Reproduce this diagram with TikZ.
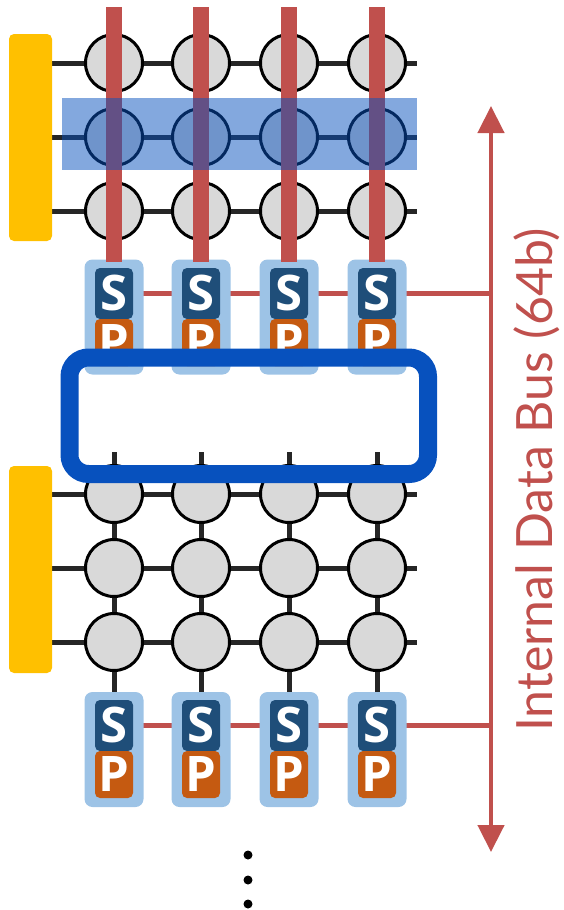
\documentclass[tikz,border=0pt]{standalone}
\usepackage{fontspec}
\usetikzlibrary{arrows.meta}
\newfontfamily\spfont{Open Sans}
\newfontfamily\busfont{Lato}
\definecolor{cred}{RGB}{192,80,77}
\definecolor{cyel}{RGB}{255,192,0}
\definecolor{cgray}{RGB}{217,217,217}
\definecolor{cline}{RGB}{38,38,38}
\definecolor{cblue}{RGB}{7,81,190}
\definecolor{clight}{RGB}{157,195,230}
\definecolor{cdark}{RGB}{31,78,121}
\definecolor{corange}{RGB}{197,90,17}
\pgfdeclarelayer{bg}
\pgfdeclarelayer{mid}
\pgfdeclarelayer{fg}
\pgfsetlayers{bg,main,mid,fg}
\begin{document}
\begin{tikzpicture}[x=1pt,y=-1pt,
  cell/.style={circle, draw=black, line width=3pt, fill=cgray, minimum size=57pt, inner sep=0pt},
  ybar/.style={rectangle, rounded corners=5pt, fill=cyel, minimum width=43pt, minimum height=207pt, inner sep=0pt},
  wire/.style={cline, line width=5pt},
  rbar/.style={cred, line width=16pt},
  rwire/.style={cred, line width=4.5pt},
  holder/.style={rectangle, rounded corners=8pt, fill=clight, minimum width=59pt, minimum height=115pt, inner sep=0pt},
  sbox/.style={rectangle, rounded corners=5pt, fill=cdark, minimum width=38pt, minimum height=51pt, inner sep=0pt, text=white, font=\spfont\bfseries\fontsize{49}{49}\selectfont, text height=34pt, text depth=0pt},
  pbox/.style={sbox, fill=corange, minimum height=47pt},
  dotmark/.style={circle, fill=black, minimum size=9pt, inner sep=0pt},
]
\useasboundingbox (0,0) rectangle (563,910);

% yellow bars
\node[ybar] (ytop) at (30.5,137.5) {};
\node[ybar] (ybot) at (30.5,569.5) {};

% cells
\foreach \r/\y in {1/63,2/137,3/211}{
  \foreach \c/\x in {1/114,2/201,3/289,4/377}{
    \node[cell] (t\r-\c) at (\x,\y) {};
  }
  \coordinate (te\r) at (417,\y);
}
\foreach \r/\y in {1/494,2/568,3/642}{
  \foreach \c/\x in {1/114,2/201,3/289,4/377}{
    \node[cell] (b\r-\c) at (\x,\y) {};
  }
  \coordinate (be\r) at (417,\y);
}

% S/P holders
\foreach \c/\x in {1/114,2/201,3/289,4/377}{
  \node[holder] (th\c) at (\x,317) {};
  \node[sbox] (ts\c) at (\x,293.5) {S};
  \node[pbox] (tp\c) at (\x,342.5) {P};
  \node[holder] (bh\c) at (\x,749.5) {};
  \node[sbox] (bs\c) at (\x,725.5) {S};
  \node[pbox] (bp\c) at (\x,774.5) {P};
  \coordinate (rt\c) at (\x,7);
  \coordinate (bt\c) at (\x,452);
}

\coordinate (bustop) at (491,106);
\coordinate (busbot) at (491,852);

\begin{pgfonlayer}{bg}
  \foreach \r in {1,2,3}{
    \draw[wire] (ytop.east |- te\r) -- (te\r);
    \draw[wire] (ybot.east |- be\r) -- (be\r);
  }
  \foreach \c in {1,2,3,4}{
    \draw[wire] (bt\c) -- (bs\c.center);
  }
  \draw[rwire] (ts1.center) -- (ts1.center -| bustop);
  \draw[rwire] (bs1.center) -- (bs1.center -| bustop);
  \draw[rwire, arrows={Triangle[length=27pt,width=26pt]-Triangle[length=27pt,width=26pt]}] (bustop) -- (busbot);
\end{pgfonlayer}

\begin{pgfonlayer}{mid}
  \foreach \c in {1,2,3,4}{
    \draw[rbar, shorten >=-3pt] (rt\c) -- (th\c.north);
  }
\end{pgfonlayer}

\begin{pgfonlayer}{fg}
  \fill[cblue, opacity=0.5] (62,98) rectangle (417,170);
  \draw[cblue, line width=18pt, rounded corners=19pt] (69.5,357.5) rectangle (428,474);
  \node[rotate=90, anchor=base west, inner sep=0pt, text=cred, font=\busfont\fontsize{50}{50}\selectfont] (bus) at (552,732) {Internal Data Bus (64b)};
  \node[dotmark] (d1) at (248,855) {};
  \node[dotmark] (d2) at (248,880) {};
  \node[dotmark] (d3) at (248,904) {};
\end{pgfonlayer}
\end{tikzpicture}
\end{document}
